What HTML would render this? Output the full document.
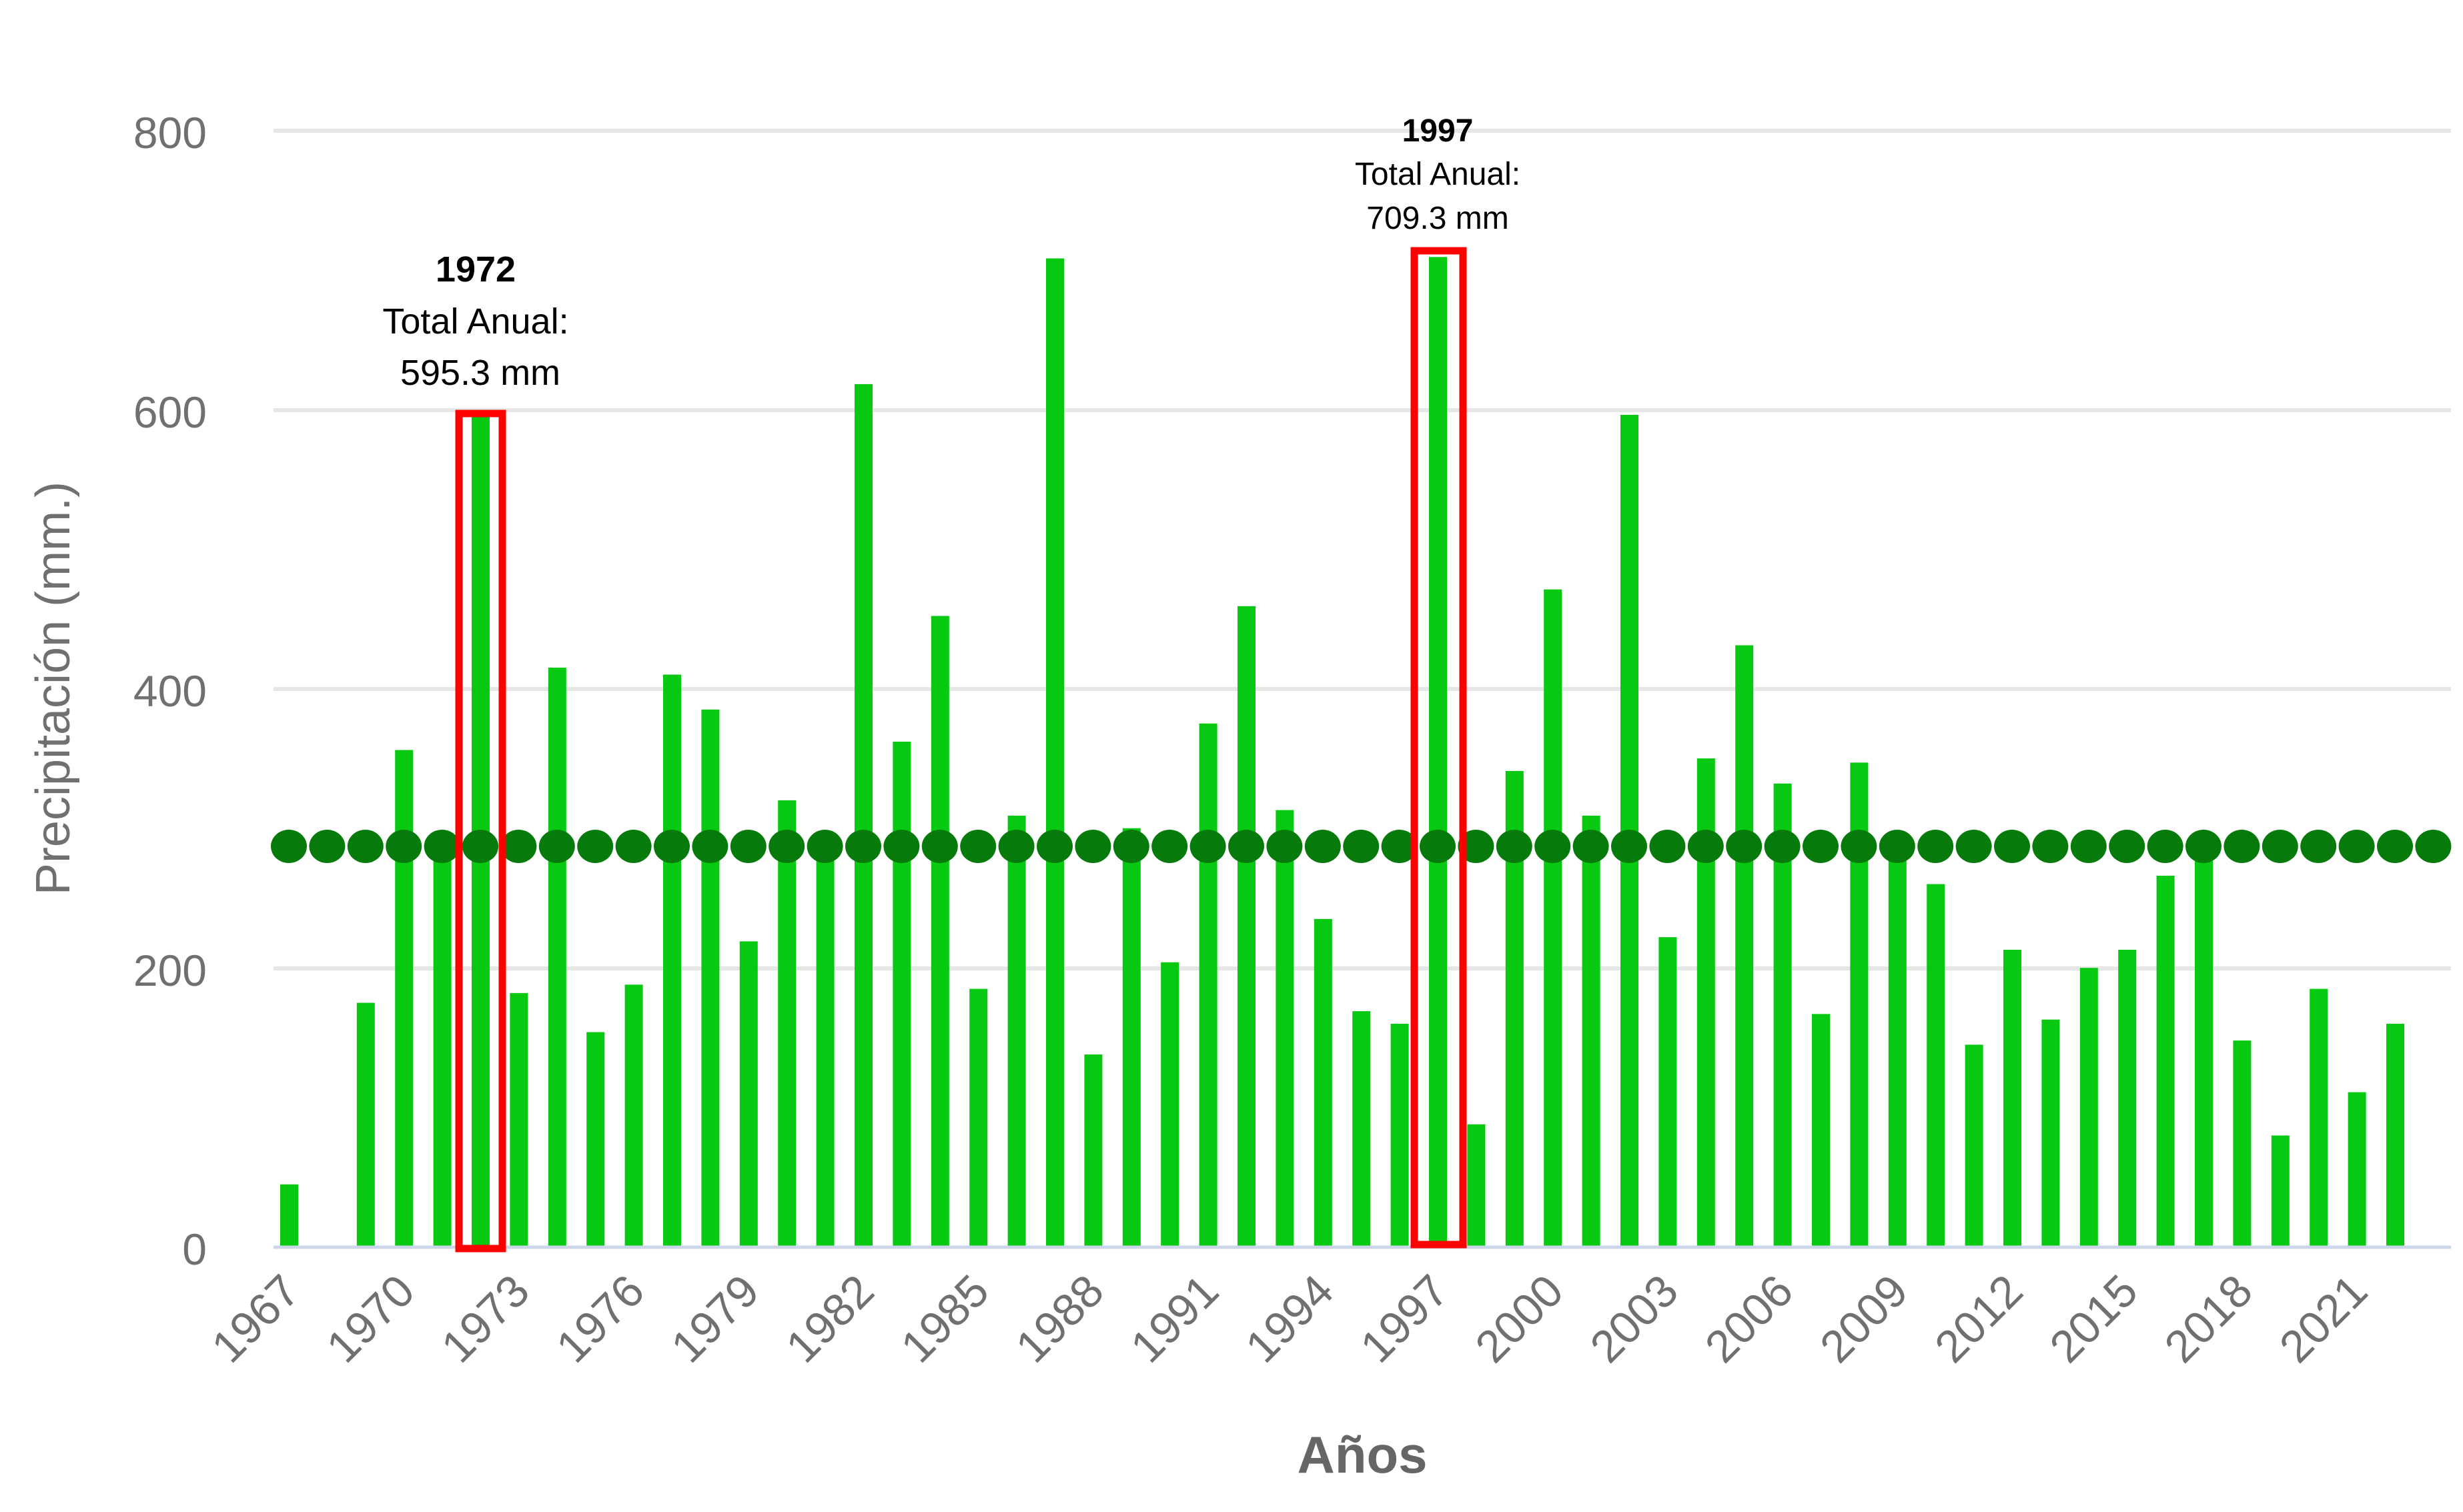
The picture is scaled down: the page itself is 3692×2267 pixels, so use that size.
<!DOCTYPE html>
<html><head><meta charset="utf-8"><style>
html,body{margin:0;padding:0;background:#fff;}
svg{display:block;}
</style></head><body>
<svg id="c" width="3692" height="2267" viewBox="0 0 3692 2267" xmlns="http://www.w3.org/2000/svg">
<rect width="3692" height="2267" fill="#fff"/>
<g id="grid" stroke="#e6e6e6" stroke-width="6">
<line x1="410" y1="196" x2="3674" y2="196"/>
<line x1="410" y1="615" x2="3674" y2="615"/>
<line x1="410" y1="1033" x2="3674" y2="1033"/>
<line x1="410" y1="1452" x2="3674" y2="1452"/>
</g>
<g font-family="'Liberation Sans',sans-serif" font-size="66" fill="#707070" text-anchor="end">
<text x="310" y="222">800</text>
<text x="310" y="641">600</text>
<text x="310" y="1059">400</text>
<text x="310" y="1478">200</text>
<text x="310" y="1896">0</text>
</g>
<text transform="translate(104,1032) rotate(-90)" text-anchor="middle" font-family="'Liberation Sans Narrow','Liberation Sans',sans-serif" font-size="72" fill="#707070">Precipitación (mm.)</text>
<text x="2042" y="2208" text-anchor="middle" font-family="'Liberation Sans Narrow','Liberation Sans',sans-serif" font-weight="bold" font-size="78" fill="#666">Años</text>
<g id="bars" fill="#08c912"></g>
<line x1="410" y1="1870" x2="3674" y2="1870" stroke="#ccd6eb" stroke-width="5"/>
<g id="dots" fill="#067a0a"></g>
<g id="xl" font-family="'Liberation Sans',sans-serif" font-size="68" fill="#707070" text-anchor="end"></g>
<rect x="688" y="620" width="65" height="1252" fill="none" stroke="#f00" stroke-width="11"/>
<rect x="2120" y="376" width="73" height="1490" fill="none" stroke="#f00" stroke-width="11"/>
<g font-family="'Liberation Sans',sans-serif" text-anchor="middle" fill="#000">
<text x="713" y="422" font-size="54" font-weight="bold">1972</text>
<text x="713" y="500" font-size="54">Total Anual:</text>
<text x="720" y="577" font-size="54">595.3 mm</text>
<text x="2155" y="212" font-size="48" font-weight="bold">1997</text>
<text x="2155" y="277" font-size="48">Total Anual:</text>
<text x="2155" y="343" font-size="48">709.3 mm</text>
</g>
</svg>
<script>
var v=[45,0,175,356,288,595,182,415,154,188,410,385,219,320,285,618,362,452,185,309,708,138,300,204,375,459,313,235,169,160,709,88,341,471,309,596,222,350,431,332,167,347,285,260,145,213,163,200,213,266,277,148,80,185,111,160];
var ns="http://www.w3.org/2000/svg";
var x0=433,dx=57.4,y0=1870,k=2.094;
var B=document.getElementById('bars'),D=document.getElementById('dots'),X=document.getElementById('xl');
for(var i=0;i<v.length;i++){
 var x=x0+i*dx;
 if(v[i]>0){var r=document.createElementNS(ns,'rect');r.setAttribute('x',x-13);r.setAttribute('width',27);r.setAttribute('y',y0-v[i]*k);r.setAttribute('height',v[i]*k);B.appendChild(r);}
 if(i%3==0){var t=document.createElementNS(ns,'text');var tx=x+20,ty=1940;t.setAttribute('x',tx);t.setAttribute('y',ty);t.setAttribute('transform','rotate(-45 '+tx+' '+ty+')');t.textContent=1967+i;X.appendChild(t);}
}
for(var i=0;i<57;i++){var e=document.createElementNS(ns,'ellipse');e.setAttribute('cx',x0+i*dx);e.setAttribute('cy',1269);e.setAttribute('rx',27);e.setAttribute('ry',25);D.appendChild(e);}
</script>
</body></html>
